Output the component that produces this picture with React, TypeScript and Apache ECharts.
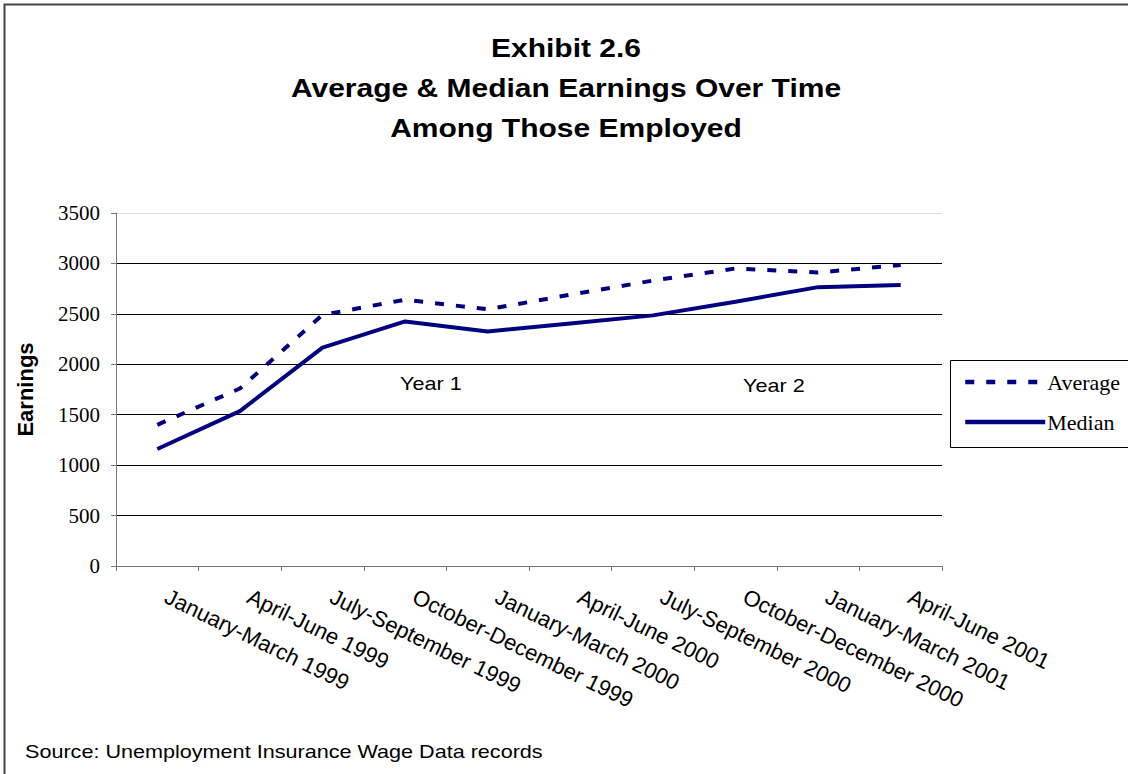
import React, { useEffect, useRef } from "react";
import * as echarts from "echarts";

const categories = [
  "January-March 1999",
  "April-June 1999",
  "July-September 1999",
  "October-December 1999",
  "January-March 2000",
  "April-June 2000",
  "July-September 2000",
  "October-December 2000",
  "January-March 2001",
  "April-June 2001",
];
const averageValues = [1400, 1760, 2490, 2640, 2545, 2690, 2830, 2950, 2910, 2985];
const medianValues = [1160, 1535, 2165, 2425, 2325, 2405, 2485, 2620, 2765, 2785];
const yTicks = { min: 0, max: 3500, interval: 500 };
const titleLines = ["Exhibit 2.6", "Average & Median Earnings Over Time", "Among Those Employed"];
const yearLabels = ["Year 1", "Year 2"];
const sourceText = "Source: Unemployment Insurance Wage Data records";

const NAVY = "#000080";
const SANS = "Liberation Sans, Arial, sans-serif";
const SERIF = "Liberation Serif, Times New Roman, serif";
const SX = 1.2;

export default function App() {
  const ref = useRef<HTMLDivElement>(null);
  useEffect(() => {
    if (!ref.current) return;
    const chart = echarts.init(ref.current, undefined, { renderer: "svg" });
    const splitColors = ["#888", "#000", "#000", "#000", "#000", "#000", "#000", "#ddd"];
    chart.setOption({
      animation: false,
      backgroundColor: "#fff",
      grid: { left: 116, right: 186, top: 213, bottom: 208, containLabel: false },
      legend: {
        orient: "vertical",
        left: 950,
        top: 360,
        padding: [11, 4, 15, 13],
        itemWidth: 80,
        itemHeight: 20,
        itemGap: 18,
        data: ["Average", "Median"],
        itemStyle: { opacity: 0 },
        lineStyle: { width: 4.5 },
        textStyle: {
          fontFamily: SERIF,
          fontSize: 22,
          color: "#000",
          lineHeight: 20,
          padding: [0, 0, 0, -3],
        },
      },
      xAxis: {
        type: "category",
        data: categories,
        boundaryGap: true,
        axisLine: { show: true, lineStyle: { color: "#777", width: 1 } },
        axisTick: { show: true, length: 5, inside: false, lineStyle: { color: "#777" } },
        axisLabel: {
          rotate: -26,
          margin: 25,
          interval: 0,
          padding: [0, 0, 0, 10],
          fontFamily: SANS,
          fontSize: 22,
          color: "#000",
        },
        splitLine: { show: false },
      },
      yAxis: {
        type: "value",
        min: yTicks.min,
        max: yTicks.max,
        interval: yTicks.interval,
        name: "Earnings",
        nameLocation: "middle",
        nameGap: 80,
        nameTextStyle: {
          fontFamily: SANS,
          fontWeight: "bold",
          fontSize: 22,
          color: "#000",
        },
        axisLine: { show: true, lineStyle: { color: "#777", width: 1 } },
        axisTick: { show: true, length: 5, lineStyle: { color: "#777" } },
        axisLabel: {
          margin: 16,
          fontFamily: SERIF,
          fontSize: 21,
          color: "#000",
          formatter: (v: number) => String(v),
        },
        splitLine: { show: true, lineStyle: { color: splitColors, width: 1 } },
      },
      graphic: [
        {
          type: "rect",
          shape: { x: 4.5, y: 4.5, width: 1300, height: 1000 },
          style: { fill: "none", stroke: "#444", lineWidth: 2 },
          silent: true,
          z: 100,
        },
        {
          type: "rect",
          shape: { x: 950.5, y: 360.5, width: 300, height: 87 },
          style: { fill: "none", stroke: "#000", lineWidth: 1 },
          silent: true,
          z: 100,
        },
        ...titleLines.map((t, i) => ({
          type: "text",
          x: 566,
          y: 48 + i * 40,
          scaleX: SX,
          style: {
            text: t,
            fontFamily: SANS,
            fontWeight: "bold",
            fontSize: 25,
            fill: "#000",
            align: "center",
            verticalAlign: "middle",
          },
        })),
        {
          type: "text",
          x: 400,
          y: 384,
          scaleX: SX,
          style: {
            text: yearLabels[0],
            fontFamily: SANS,
            fontSize: 18,
            fill: "#000",
            verticalAlign: "middle",
          },
        },
        {
          type: "text",
          x: 743,
          y: 386,
          scaleX: SX,
          style: {
            text: yearLabels[1],
            fontFamily: SANS,
            fontSize: 18,
            fill: "#000",
            verticalAlign: "middle",
          },
        },
        {
          type: "text",
          x: 25,
          y: 752,
          scaleX: SX,
          style: {
            text: sourceText,
            fontFamily: SANS,
            fontSize: 18,
            fill: "#000",
            verticalAlign: "middle",
          },
        },
      ],
      series: [
        {
          name: "Average",
          type: "line",
          data: averageValues,
          symbol: "none",
          lineStyle: { color: NAVY, width: 4, type: [9, 12] },
          itemStyle: { color: NAVY },
          z: 3,
        },
        {
          name: "Median",
          type: "line",
          data: medianValues,
          symbol: "none",
          lineStyle: { color: NAVY, width: 4, type: "solid" },
          itemStyle: { color: NAVY },
          z: 3,
        },
      ],
    });
    return () => chart.dispose();
  }, []);
  return (
    <div
      ref={ref}
      style={{ position: "fixed", left: 0, top: 0, width: 1128, height: 774 }}
    />
  );
}
